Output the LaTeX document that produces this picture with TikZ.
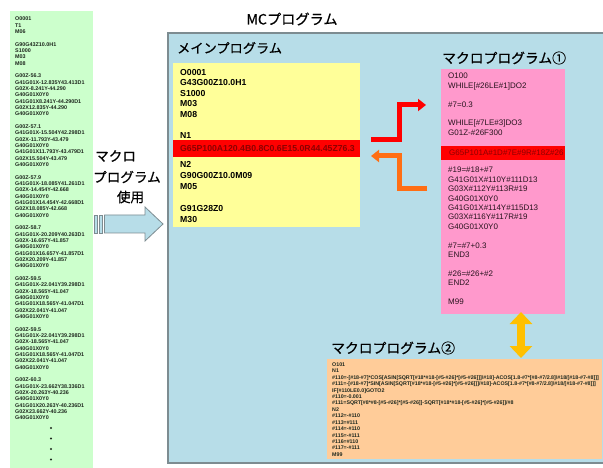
\documentclass[tikz,border=0pt]{standalone}
\usepackage{fontspec}
\setmainfont{Liberation Sans}
\newfontfamily\jp[FakeBold=0.5]{Noto Sans CJK JP}
\usetikzlibrary{arrows.meta}
\definecolor{gbg}{RGB}{204,255,204}
\definecolor{bbg}{RGB}{183,221,232}
\definecolor{bbd}{RGB}{125,140,145}
\definecolor{ybg}{RGB}{255,255,153}
\definecolor{pbg}{RGB}{255,153,204}
\definecolor{obg}{RGB}{255,204,153}
\definecolor{rbar}{RGB}{255,0,0}
\definecolor{rtxt}{RGB}{140,0,0}
\definecolor{goldc}{RGB}{255,192,0}
\definecolor{orc}{RGB}{255,110,20}
\definecolor{gtxt}{RGB}{30,40,30}
\definecolor{ptxtc}{RGB}{40,20,30}
\begin{document}
\begin{tikzpicture}[x=1pt,y=-1pt,
  boxn/.style={anchor=north west, inner sep=0pt, outer sep=0pt},
  lcol/.style={anchor=base west, inner sep=0pt, text=gtxt, font=\bfseries\fontsize{5.4}{6}\selectfont},
  ytxt/.style={anchor=base west, inner sep=0pt, font=\bfseries\fontsize{8.7}{10}\selectfont},
  ptxt/.style={anchor=base west, inner sep=0pt, text=ptxtc, font=\fontsize{8}{9}\selectfont},
  otxt/.style={anchor=base west, inner sep=0pt, text=gtxt, font=\bfseries\fontsize{5.3}{5.8}\selectfont},
  jt/.style={inner sep=0pt, font=\jp\fontsize{13.6}{14}\selectfont},
  thickarrow/.style={line width=5pt, line join=miter, -{Triangle[width=12pt,length=8pt]}}
]
\useasboundingbox[fill=white] (0,0) rectangle (603,468);

% left green column
\node[boxn, fill=gbg, minimum width=83pt, minimum height=460pt] (green) at (10,11) {};
\foreach \t [count=\i] in {O0001,T1,M06,{},G90G43Z10.0H1,S1000,M03,M08,{},
  G00Z-56.3,G41G01X-12.835Y43.413D1,G02X-8.241Y-44.290,G40G01X0Y0,G41G01X8.241Y-44.290D1,G02X12.835Y-44.290,G40G01X0Y0,{},
  G00Z-57.1,G41G01X-15.504Y42.298D1,G02X-11.793Y-43.479,G40G01X0Y0,G41G01X11.793Y-43.479D1,G02X15.504Y-43.479,G40G01X0Y0,{},
  G00Z-57.9,G41G01X-18.085Y41.261D1,G02X-14.454Y-42.668,G40G01X0Y0,G41G01X14.454Y-42.668D1,G02X18.085Y-42.668,G40G01X0Y0,{},
  G00Z-58.7,G41G01X-20.209Y40.263D1,G02X-16.657Y-41.857,G40G01X0Y0,G41G01X16.657Y-41.857D1,G02X20.209Y-41.857,G40G01X0Y0,{},
  G00Z-59.5,G41G01X-22.041Y39.298D1,G02X-18.565Y-41.047,G40G01X0Y0,G41G01X18.565Y-41.047D1,G02X22.041Y-41.047,G40G01X0Y0,{},
  G00Z-59.5,G41G01X-22.041Y39.298D1,G02X-18.565Y-41.047,G40G01X0Y0,G41G01X18.565Y-41.047D1,G02X22.041Y-41.047,G40G01X0Y0,{},
  G00Z-60.3,G41G01X-23.662Y38.336D1,G02X-20.263Y-40.236,G40G01X0Y0,G41G01X20.263Y-40.236D1,G02X23.662Y-40.236,G40G01X0Y0}
  \node[lcol] (L\i) at (15,{19+(\i-1)*6.33+1.9}) {\t};
\foreach \d [count=\i] in {428,438.5,449,459.5}
  \fill[gtxt] (51,\d) circle (1.1pt);

% title
\node[jt, font=\jp\fontsize{14.2}{15}\selectfont] (title) at (292,19) {MCプログラム};

% macro use label and block arrow
\node[jt, anchor=west] (lab1) at (95,156) {マクロ};
\node[jt, anchor=west] (lab2) at (93,177) {プログラム};
\node[jt] (lab3) at (130.5,197) {使用};
\path[fill=bbg, draw=bbd, line width=0.8pt] (94,215) rectangle (97,233);
\path[fill=bbg, draw=bbd, line width=0.8pt] (99.5,215) rectangle (102,233);
\path[fill=bbg, draw=bbd, line width=0.8pt, line join=miter]
  (104.5,215) -- (145,215) -- (145,207) -- (163,224) -- (145,241) -- (145,233) -- (104.5,233) -- cycle;

% big blue panel
\node[boxn, fill=bbg, draw=bbd, line width=1.5pt, minimum width=445pt, minimum height=430pt] (panel) at (168,33) {};
\node[jt, anchor=west, font=\jp\fontsize{13.2}{14}\selectfont] (mainT) at (177,48) {メインプログラム};

% main program (yellow)
\node[boxn, fill=ybg, minimum width=187pt, minimum height=164pt] (yellow) at (173,63) {};
\node[boxn, fill=rbar, minimum width=187pt, minimum height=17pt] (yred) at (173,140) {};
\foreach \t [count=\i] in {O0001,G43G00Z10.0H1,S1000,M03,M08,{},N1}
  \node[ytxt] (YA\i) at (180,{72+(\i-1)*10.6+3.1}) {\t};
\node[ytxt, text=rtxt] (yredT) at (180,151.6) {G65P100A120.4B0.8C0.6E15.0R44.45Z76.3};
\foreach \t [count=\i] in {N2,G90G00Z10.0M09,M05,{},G91G28Z0,M30}
  \node[ytxt] (YB\i) at (180,{164+(\i-1)*11+3.1}) {\t};

% macro program 1 (pink)
\node[jt, anchor=west, font=\jp\fontsize{13.8}{14}\selectfont] (m1T) at (442,58) {マクロプログラム①};
\node[boxn, fill=pbg, minimum width=124pt, minimum height=245pt] (pink) at (441,69) {};
\node[boxn, fill=rbar, minimum width=124pt, minimum height=14pt] (pred) at (441,146) {};
\foreach \t [count=\i] in {O100,WHILE[\#26LE\#1]DO2,{},\#7=0.3,{},WHILE[\#7LE\#3]DO3,G01Z-\#26F300}
  \node[ptxt] (PA\i) at (448,{76+(\i-1)*9.4+2.9}) {\t};
\node[ptxt, text=rtxt] (predT) at (449,155.9) {G65P101A\#1D\#7E\#9R\#18Z\#26};
\foreach \t [count=\i] in {\#19=\#18+\#7,G41G01X\#110Y\#111D13,G03X\#112Y\#113R\#19,G40G01X0Y0,G41G01X\#114Y\#115D13,G03X\#116Y\#117R\#19,G40G01X0Y0,{},\#7=\#7+0.3,END3,{},\#26=\#26+\#2,END2,{},M99}
  \node[ptxt] (PB\i) at (448,{170+(\i-1)*9.4+2.9}) {\t};

% macro program 2 (orange)
\node[jt, anchor=west, font=\jp\fontsize{13.8}{14}\selectfont] (m2T) at (331,348) {マクロプログラム②};
\node[boxn, fill=obg, minimum width=275pt, minimum height=100pt] (orange) at (327,359) {};
\foreach \t [count=\i] in {O101,N1,
  \#110=-[\#18-\#7]*COS[ASIN[SQRT[\#18*\#18-[\#5-\#26]*[\#5-\#26]]]/\#18]-ACOS[1.8-\#7*[\#8-\#7/2.8]/\#18/[\#18-\#7-\#8]]],
  \#111=-[\#18-\#7]*SIN[ASIN[SQRT[\#18*\#18-[\#5-\#26]*[\#5-\#26]]]/\#18]-ACOS[1.8-\#7*[\#8-\#7/2.8]/\#18/[\#18-\#7-\#8]]],
  IF[\#110LE0.0]GOTO2,\#110=-0.001,
  \#111=SQRT[\#8*\#8-[\#5-\#26]*[\#5-\#26]]-SQRT[\#18*\#18-[\#5-\#26]*[\#5-\#26]]/\#8,
  N2,\#112=-\#110,\#113=\#111,\#114=-\#110,\#115=-\#111,\#116=\#110,\#117=-\#111,M99}
  \node[otxt] (O\i) at (332,{364.5+(\i-1)*6.42+1.9}) {\t};

% call / return arrows
\coordinate (rs) at (371,140);
\coordinate (rk) at (399,140);
\coordinate (rt) at (426,105);
\draw[thickarrow, rbar] (rs) -- (rk) |- (rt);
\coordinate (os) at (427,188.5);
\coordinate (ok) at (399.5,188.5);
\coordinate (ot) at (371,156);
\draw[thickarrow, orc] (os) -- (ok) |- (ot);

% double arrow between macro programs
\coordinate (ya) at (521,312);
\coordinate (yb) at (521,358);
\draw[goldc, line width=8pt, {Triangle[width=22pt,length=12pt]}-{Triangle[width=22pt,length=12pt]}] (ya) -- (yb);
\end{tikzpicture}
\end{document}
